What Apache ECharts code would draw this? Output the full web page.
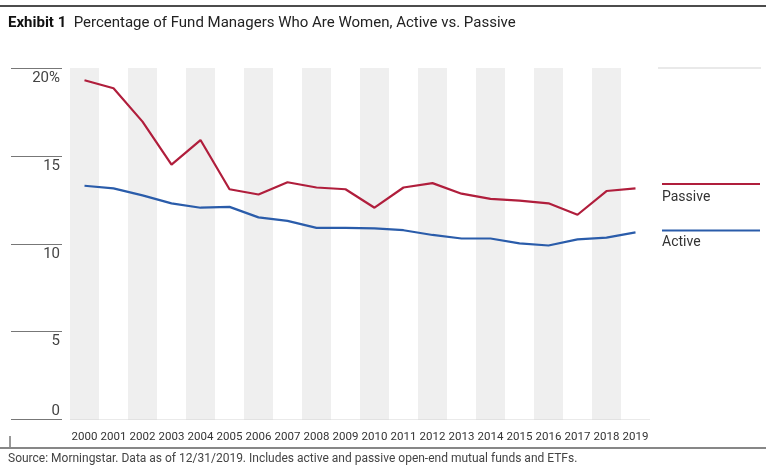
<!DOCTYPE html>
<html><head><meta charset="utf-8">
<script src="https://cdn.jsdelivr.net/npm/echarts@6/dist/echarts.min.js"></script>
<style>html,body{margin:0;padding:0;background:#fff}#c{width:772px;height:476px}</style>
</head><body><div id="c"></div>
<script>
var years = ['2000','2001','2002','2003','2004','2005','2006','2007','2008','2009','2010','2011','2012','2013','2014','2015','2016','2017','2018','2019'];
var passive = [19.3,18.85,16.95,14.5,15.9,13.1,12.8,13.5,13.2,13.1,12.05,13.2,13.45,12.85,12.55,12.45,12.3,11.65,13.0,13.15];
var active = [13.3,13.15,12.75,12.3,12.05,12.1,11.5,11.3,10.9,10.9,10.88,10.77,10.5,10.3,10.3,10.02,9.9,10.25,10.35,10.65];
var yTicks = ['0','5','10','15','20%'];

var FONT = '"Roboto","Liberation Sans",sans-serif';
var RED = '#b01e3c', BLUE = '#2a5caa';
var chart = echarts.init(document.getElementById('c'));
chart.setOption({
  animation:false,
  textStyle:{fontFamily:FONT},
  grid:{left:70,right:122,top:68,bottom:56.5,containLabel:false},
  xAxis:{type:'category',data:years,boundaryGap:true,
    axisLine:{show:false},axisTick:{show:false},
    axisLabel:{color:'#333',fontSize:11.5,fontFamily:FONT,margin:12,interval:0},
    splitArea:{show:true,interval:0,areaStyle:{color:['#efefef','#ffffff']}}},
  yAxis:[{type:'value',min:0,max:20,interval:5,
    axisLine:{show:false},axisTick:{show:false},
    splitLine:{show:true,lineStyle:{color:['#d4d4d4','#d4d4d4','#d4d4d4','#d4d4d4','#666'],width:1.2}},
    axisLabel:{color:'#444',fontSize:15,fontFamily:FONT,margin:10,verticalAlign:'middle',
      formatter:function(v){return v === 0 ? '{z|' + yTicks[0] + '}' : '{a|' + yTicks[v/5] + '}';},
      rich:{a:{fontSize:15,lineHeight:17,padding:[20,0,0,0],color:'#444',fontFamily:FONT},
            z:{fontSize:15,lineHeight:17,padding:[0,0,16,0],color:'#444',fontFamily:FONT}}}},
   {type:'value',min:0,max:20,interval:5,position:'left',offset:8,
    axisLine:{show:false},axisLabel:{show:false},splitLine:{show:false},
    axisTick:{show:true,length:51,lineStyle:{color:'#777',width:1.2}}}],
  series:[
    {name:'Passive',type:'line',data:passive,symbol:'none',lineStyle:{color:RED,width:2.2},z:3},
    {name:'Active',type:'line',data:active,symbol:'none',lineStyle:{color:BLUE,width:2.2},z:3}
  ],
  graphic:[
    {type:'line',shape:{x1:0,y1:6,x2:766,y2:6},style:{stroke:'#111',lineWidth:1.5}},
    {type:'text',left:8,top:16,style:{text:'{b|Exhibit 1}  Percentage of Fund Managers Who Are Women, Active vs. Passive',
      rich:{b:{fontWeight:'bold',fontSize:15,fontFamily:FONT,fill:'#111'}},fontSize:15,fontFamily:FONT,fill:'#222'}},
    {type:'line',shape:{x1:658,y1:68,x2:761,y2:68},style:{stroke:'#d4d4d4',lineWidth:1.2}},
    {type:'line',shape:{x1:662,y1:184,x2:760,y2:184},style:{stroke:RED,lineWidth:2.2}},
    {type:'text',left:662,top:190,style:{text:'Passive',fontSize:14,fontFamily:FONT,fill:'#333'}},
    {type:'line',shape:{x1:662,y1:230.5,x2:760,y2:230.5},style:{stroke:BLUE,lineWidth:2.2}},
    {type:'text',left:662,top:235,style:{text:'Active',fontSize:14,fontFamily:FONT,fill:'#333'}},
    {type:'line',shape:{x1:10,y1:436,x2:10,y2:447},style:{stroke:'#333',lineWidth:1}},
    {type:'line',shape:{x1:0,y1:448,x2:766,y2:448},style:{stroke:'#111',lineWidth:1.2}},
    {type:'text',left:8,top:453,style:{text:'Source: Morningstar. Data as of 12/31/2019. Includes active and passive open-end mutual funds and ETFs.',
      fontSize:12,fontFamily:FONT,fill:'#444'}}
  ]
});
</script></body></html>
